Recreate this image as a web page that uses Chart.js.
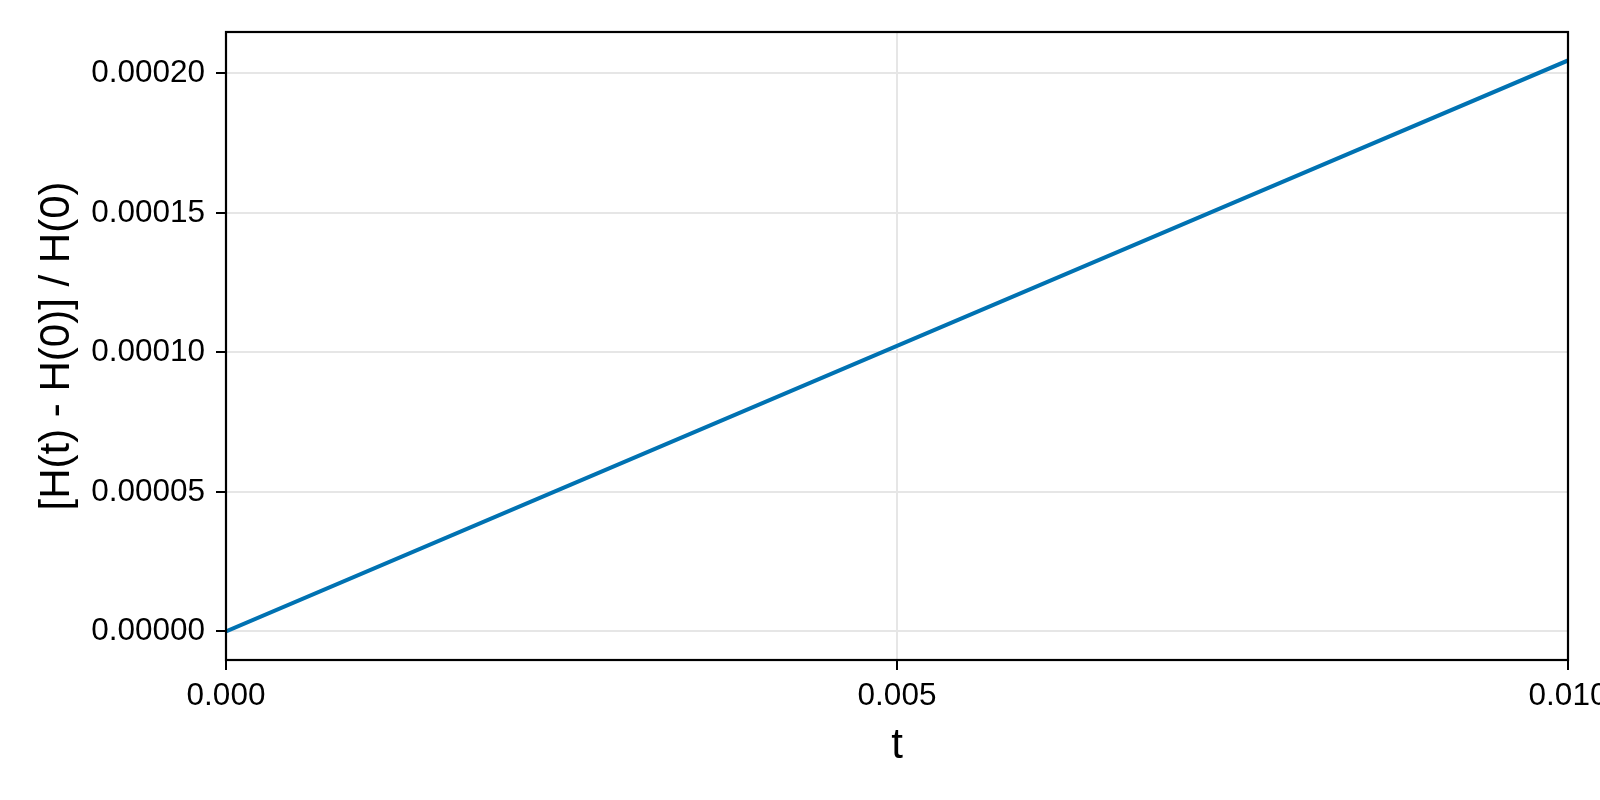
<!DOCTYPE html>
<html>
<head>
<meta charset="utf-8">
<script src="https://cdn.jsdelivr.net/npm/chart.js@4/dist/chart.umd.min.js"></script>
<style>
  html, body { margin: 0; padding: 0; background: #ffffff; }
  #wrap { width: 1600px; height: 800px; }
</style>
</head>
<body>
<div id="wrap"><canvas id="c" width="1600" height="800"></canvas></div>
<script>
// ---- data ----
const tValues = [0, 0.0025, 0.005, 0.0075, 0.01];
const relEnergyError = [0, 0.0000512, 0.0001023, 0.0001535, 0.0002046];
const xTickValues = [0, 0.005, 0.01];
const yTickValues = [0, 0.00005, 0.0001, 0.00015, 0.0002];
const xLabel = 't';
const yLabel = '[H(t) - H(0)] / H(0)';
const xRange = [0, 0.01];
const yRange = [-0.00001023, 0.0002148];

const FONT = '"Liberation Sans", Arial, Helvetica, sans-serif';

const framePlugin = {
  id: 'frame',
  afterDraw(chart) {
    const a = chart.chartArea;
    const ctx = chart.ctx;
    ctx.save();
    ctx.strokeStyle = '#000000';
    ctx.lineWidth = 2.2;
    ctx.strokeRect(a.left, a.top, a.right - a.left, a.bottom - a.top);
    ctx.restore();
  }
};

new Chart(document.getElementById('c'), {
  type: 'line',
  data: {
    datasets: [{
      data: tValues.map((t, i) => ({ x: t, y: relEnergyError[i] })),
      borderColor: '#0072b2',
      borderWidth: 4,
      pointRadius: 0,
      tension: 0,
      fill: false
    }]
  },
  options: {
    responsive: false,
    animation: false,
    devicePixelRatio: 1,
    layout: { padding: { top: 32, right: 32, left: 0, bottom: 0 } },
    plugins: { legend: { display: false }, tooltip: { enabled: false } },
    scales: {
      x: {
        type: 'linear',
        min: xRange[0],
        max: xRange[1],
        afterBuildTicks: s => { s.ticks = xTickValues.map(v => ({ value: v })); },
        afterFit: s => { s.height = 140; s.paddingLeft = 0; s.paddingRight = 0; },
        border: { display: false },
        grid: { color: '#e6e6e6', lineWidth: 2, tickColor: '#000000', tickWidth: 2, tickLength: 10 },
        ticks: {
          color: '#000000',
          font: { family: FONT, size: 31.5 },
          padding: 7,
          maxRotation: 0,
          autoSkip: false,
          callback: v => Number(v).toFixed(3)
        },
        title: {
          display: true,
          text: xLabel,
          color: '#000000',
          font: { family: FONT, size: 42 },
          padding: { top: 0, bottom: 28 }
        }
      },
      y: {
        type: 'linear',
        min: yRange[0],
        max: yRange[1],
        afterBuildTicks: s => { s.ticks = yTickValues.map(v => ({ value: v })); },
        afterFit: s => { s.width = 226; s.paddingTop = 0; s.paddingBottom = 0; },
        border: { display: false },
        grid: { color: '#e6e6e6', lineWidth: 2, tickColor: '#000000', tickWidth: 2, tickLength: 10 },
        ticks: {
          color: '#000000',
          font: { family: FONT, size: 31.5 },
          padding: 11,
          autoSkip: false,
          callback: v => Number(v).toFixed(5)
        },
        title: {
          display: true,
          text: yLabel,
          color: '#000000',
          font: { family: FONT, size: 42 },
          padding: { top: 32, bottom: 0 }
        }
      }
    }
  },
  plugins: [framePlugin]
});
</script>
</body>
</html>
